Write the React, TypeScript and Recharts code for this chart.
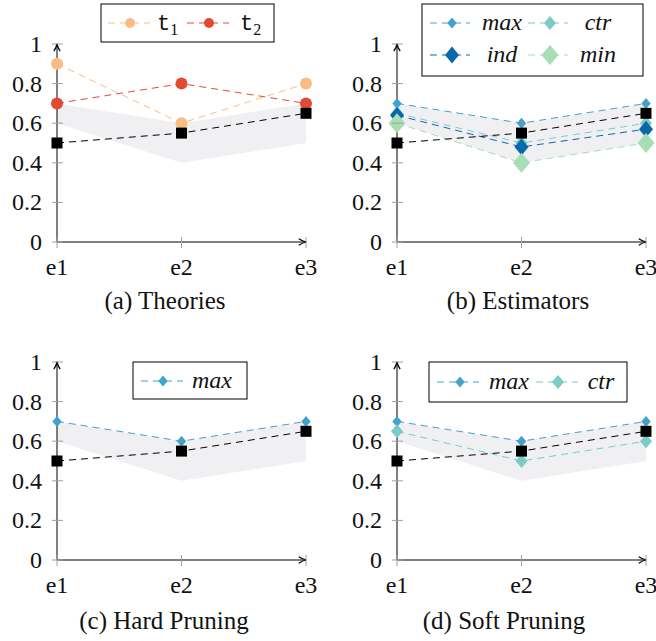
import React from "react";
import { ComposedChart, Line, Area, XAxis, YAxis } from "recharts";

const EXPERIMENTS = ["e1", "e2", "e3"];
const Y_TICKS = [0, 0.2, 0.4, 0.6, 0.8, 1];

// shaded range and the black reference line, same in every panel
const BAND_LOW = [0.6, 0.4, 0.5];
const BAND_HIGH = [0.7, 0.6, 0.7];
const BASELINE = [0.5, 0.55, 0.65];

const T1 = [0.9, 0.6, 0.8];
const T2 = [0.7, 0.8, 0.7];
const MAX = [0.7, 0.6, 0.7];
const CTR = [0.65, 0.5, 0.6];
const IND = [0.64, 0.48, 0.57];
const MIN = [0.6, 0.4, 0.5];

const SERIF = "'Liberation Serif', 'DejaVu Serif', serif";
const MONO = "'Liberation Mono', 'DejaVu Sans Mono', monospace";
const DASH = "7 5";
const TICK_GREY = "#a0a0a0";
const BAND_FILL = "#f0f0f3";

type Marker = "circle" | "diamond" | "square";

interface Series {
  key: string;
  label: string;
  sub?: string;
  mono?: boolean;
  color: string;
  marker: Marker;
  w: number;
  h: number;
  values: number[];
}

const S_T1: Series = { key: "t1", label: "t", sub: "1", mono: true, color: "#fdbb84", marker: "circle", w: 6, h: 6, values: T1 };
const S_T2: Series = { key: "t2", label: "t", sub: "2", mono: true, color: "#e34a33", marker: "circle", w: 6, h: 6, values: T2 };
const S_MAX: Series = { key: "max", label: "max", color: "#43a2ca", marker: "diamond", w: 4.7, h: 5.5, values: MAX };
const S_CTR: Series = { key: "ctr", label: "ctr", color: "#7bccc4", marker: "diamond", w: 6, h: 7, values: CTR };
const S_IND: Series = { key: "ind", label: "ind", color: "#0868ac", marker: "diamond", w: 7, h: 8.5, values: IND };
const S_MIN: Series = { key: "min", label: "min", color: "#a8ddb5", marker: "diamond", w: 8.5, h: 10, values: MIN };

function MarkerShape({ cx, cy, shape, color, w, h }: { cx: number; cy: number; shape: Marker; color: string; w: number; h: number }) {
  if (shape === "circle") return <circle cx={cx} cy={cy} r={w} fill={color} />;
  if (shape === "square") return <rect x={cx - w} y={cy - h} width={2 * w} height={2 * h} fill={color} />;
  return (
    <path
      d={`M${cx},${cy - h} L${cx + w},${cy} L${cx},${cy + h} L${cx - w},${cy} Z`}
      fill={color}
    />
  );
}

const markerDot = (shape: Marker, color: string, w: number, h: number) => (props: any) => {
  const { cx, cy, index } = props;
  if (cx == null || cy == null) return <g key={`m-${index}`} />;
  return (
    <g key={`m-${index}`}>
      <MarkerShape cx={cx} cy={cy} shape={shape} color={color} w={w} h={h} />
    </g>
  );
};

const Y_GAP = 15;
const X_GAP = 4;

function YTick(props: any) {
  const { x, y, payload } = props;
  const ax = x + Y_GAP;
  return (
    <g>
      <line x1={ax - 5} x2={ax + 6} y1={y} y2={y} stroke={TICK_GREY} strokeWidth={1} />
      <text x={x} y={y + 8} textAnchor="end" fontFamily={SERIF} fontSize={24} fill="#111">
        {payload.value}
      </text>
    </g>
  );
}

function XTick(props: any) {
  const { x, y, payload } = props;
  const ay = y - X_GAP;
  return (
    <g>
      <line x1={x} x2={x} y1={ay - 5} y2={ay + 6} stroke={TICK_GREY} strokeWidth={1} />
      <text x={x} y={ay + 33} textAnchor="middle" fontFamily={SERIF} fontSize={24} fill="#111">
        {payload.value}
      </text>
    </g>
  );
}

interface LegendItem {
  s: Series;
  x0: number;
  x1: number;
  mx: number;
  tx: number;
  y: number;
}

interface LegendBox {
  x: number;
  y: number;
  w: number;
  h: number;
  items: LegendItem[];
}

function LegendOverlay({ box }: { box: LegendBox }) {
  return (
    <g>
      <rect x={box.x} y={box.y} width={box.w} height={box.h} fill="#fff" stroke="#000" strokeWidth={1} />
      {box.items.map((it) => (
        <g key={it.s.key}>
          <line x1={it.x0} x2={it.x1} y1={it.y} y2={it.y} stroke={it.s.color} strokeDasharray={DASH} />
          <MarkerShape
            cx={it.mx}
            cy={it.y}
            shape={it.s.marker}
            color={it.s.color}
            w={it.s.marker === "circle" ? 5 : it.s.w}
            h={it.s.marker === "circle" ? 5 : it.s.h}
          />
          {it.s.mono ? (
            <text x={it.tx} y={it.y + 7} fontFamily={MONO} fontSize={22} fill="#111">
              {it.s.label}
              <tspan fontFamily={SERIF} fontSize={16} dy={5}>
                {it.s.sub}
              </tspan>
            </text>
          ) : (
            <text x={it.tx} y={it.y + 7} textAnchor="middle" fontFamily={SERIF} fontStyle="italic" fontSize={24} fill="#111">
              {it.s.label}
            </text>
          )}
        </g>
      ))}
    </g>
  );
}

const W = 328;
const H = 320;

function Panel({
  id,
  left,
  top,
  series,
  legend,
  caption,
  captionX,
  captionY,
}: {
  id: string;
  left: number;
  top: number;
  series: Series[];
  legend: LegendBox;
  caption: string;
  captionX: number;
  captionY: number;
}) {
  const data = EXPERIMENTS.map((name, i) => {
    const row: Record<string, any> = {
      name,
      band: [BAND_LOW[i], BAND_HIGH[i]],
      base: BASELINE[i],
    };
    series.forEach((s) => {
      row[s.key] = s.values[i];
    });
    return row;
  });

  const arrow = `arrow-${id}`;

  return (
    <div style={{ position: "absolute", left, top, width: W, height: H }}>
      <ComposedChart width={W} height={H} data={data} margin={{ top: 44, right: 22, bottom: 48, left: 7 }}>
        <defs>
          <marker
            id={arrow}
            viewBox="0 0 10 10"
            refX="9"
            refY="5"
            markerWidth="9"
            markerHeight="9"
            markerUnits="userSpaceOnUse"
            orient="auto-start-reverse"
          >
            <path d="M1,1.5 Q5,4.3 9.5,5 Q5,5.7 1,8.5" fill="none" stroke="#000" strokeWidth={1.4} />
          </marker>
        </defs>
        <XAxis
          dataKey="name"
          scale="point"
          padding={{ left: 0, right: 0 }}
          height={30}
          interval={0}
          tickSize={0}
          tickMargin={X_GAP}
          tickLine={false}
          tick={<XTick />}
          axisLine={{ stroke: "#000", strokeWidth: 1, markerEnd: `url(#${arrow})` }}
        />
        <YAxis
          type="number"
          domain={[0, 1]}
          ticks={Y_TICKS}
          width={50}
          interval={0}
          tickSize={0}
          tickMargin={Y_GAP}
          tickLine={false}
          tick={<YTick />}
          axisLine={{ stroke: "#000", strokeWidth: 1, markerStart: `url(#${arrow})` }}
        />
        <Area
          type="linear"
          dataKey="band"
          stroke="none"
          fill={BAND_FILL}
          fillOpacity={1}
          dot={false}
          activeDot={false}
          isAnimationActive={false}
        />
        {series.map((s) => (
          <Line
            key={s.key}
            type="linear"
            dataKey={s.key}
            stroke={s.color}
            strokeWidth={1}
            strokeDasharray={DASH}
            dot={markerDot(s.marker, s.color, s.w, s.h)}
            activeDot={false}
            isAnimationActive={false}
          />
        ))}
        <Line
          type="linear"
          dataKey="base"
          stroke="#000"
          strokeWidth={1}
          strokeDasharray={DASH}
          dot={markerDot("square", "#000", 5.5, 5.5)}
          activeDot={false}
          isAnimationActive={false}
        />
      </ComposedChart>
      <svg
        width={W}
        height={H}
        style={{ position: "absolute", left: 0, top: 0, pointerEvents: "none", overflow: "visible" }}
      >
        <LegendOverlay box={legend} />
        <text x={captionX} y={captionY} textAnchor="middle" fontFamily={SERIF} fontSize={25} fill="#111">
          {caption}
        </text>
      </svg>
    </div>
  );
}

const LEGEND_A: LegendBox = {
  x: 101, y: 4, w: 173, h: 38,
  items: [
    { s: S_T1, x0: 108, x1: 150, mx: 130, tx: 157, y: 23 },
    { s: S_T2, x0: 187, x1: 229, mx: 209, tx: 240, y: 23 },
  ],
};

const LEGEND_B: LegendBox = {
  x: 82, y: 4, w: 221, h: 72,
  items: [
    { s: S_MAX, x0: 90, x1: 130, mx: 112, tx: 162, y: 23 },
    { s: S_CTR, x0: 188, x1: 228, mx: 210, tx: 258, y: 23 },
    { s: S_IND, x0: 90, x1: 130, mx: 112, tx: 162, y: 55 },
    { s: S_MIN, x0: 188, x1: 228, mx: 210, tx: 258, y: 55 },
  ],
};

const LEGEND_C: LegendBox = {
  x: 133, y: 44, w: 114, h: 37,
  items: [{ s: S_MAX, x0: 141, x1: 183, mx: 163, tx: 212, y: 63 }],
};

const LEGEND_D: LegendBox = {
  x: 89, y: 44, w: 198, h: 40,
  items: [
    { s: S_MAX, x0: 97, x1: 139, mx: 120, tx: 169, y: 64 },
    { s: S_CTR, x0: 196, x1: 238, mx: 218, tx: 261, y: 64 },
  ],
};

export default function App() {
  return (
    <div
      style={{
        position: "absolute",
        left: 0,
        top: 0,
        width: 656,
        height: 641,
        overflow: "hidden",
        background: "#fff",
      }}
    >
      <Panel id="a" left={0} top={0} series={[S_T1, S_T2]} legend={LEGEND_A} caption="(a) Theories" captionX={165} captionY={309} />
      <Panel id="b" left={340} top={0} series={[S_MAX, S_CTR, S_IND, S_MIN]} legend={LEGEND_B} caption="(b) Estimators" captionX={178} captionY={309} />
      <Panel id="c" left={0} top={318} series={[S_MAX]} legend={LEGEND_C} caption="(c) Hard Pruning" captionX={164} captionY={311} />
      <Panel id="d" left={340} top={318} series={[S_MAX, S_CTR]} legend={LEGEND_D} caption="(d) Soft Pruning" captionX={164} captionY={311} />
    </div>
  );
}
